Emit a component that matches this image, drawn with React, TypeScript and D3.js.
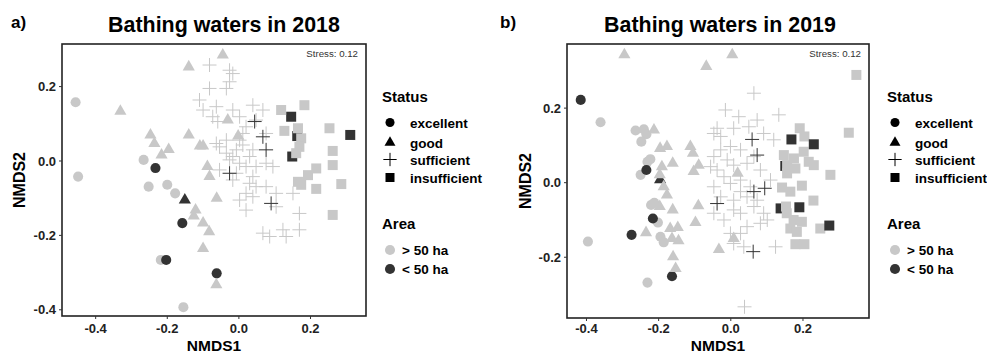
import React from 'react';
import * as d3 from 'd3';

type P = [number, number];

const LIGHT = '#c8c8c8';
const DARK = '#333333';
const FONT = "'Liberation Sans', Arial, Helvetica, sans-serif";

// ---- 2018 (NMDS1, NMDS2) ----
const exc18Big: P[] = [[-0.456, 0.158], [-0.449, -0.042], [-0.266, 0.003], [-0.252, -0.069], [-0.2, -0.064], [-0.178, -0.087], [-0.218, -0.266], [-0.155, -0.393]];
const exc18Small: P[] = [[-0.233, -0.019], [-0.158, -0.167], [-0.203, -0.266], [-0.062, -0.302]];
const good18Big: P[] = [[-0.045, 0.285], [-0.14, 0.253], [-0.331, 0.134], [-0.247, 0.07], [-0.236, 0.047], [-0.216, 0.016], [-0.196, 0.031], [-0.14, 0.07], [-0.109, 0.04], [-0.1, 0.04], [-0.031, 0.11], [-0.002, 0.067], [-0.088, -0.015], [-0.082, -0.042], [-0.062, -0.1], [-0.121, -0.132], [-0.126, -0.148], [-0.1, -0.167], [-0.083, -0.19], [-0.1, -0.235], [-0.063, -0.333]];
const good18Small: P[] = [[-0.151, -0.105]];
const suff18Big: P[] = [[-0.082, 0.258], [-0.026, 0.244], [-0.017, 0.235], [-0.082, 0.195], [-0.026, 0.213], [-0.11, 0.164], [-0.035, 0.195], [-0.063, 0.146], [-0.1, 0.137], [-0.073, 0.119], [-0.017, 0.137], [-0.059, 0.106], [0.002, 0.119], [0.039, 0.15], [0.067, 0.137], [0.048, 0.11], [0.02, 0.092], [0.011, 0.074], [-0.063, 0.047], [-0.054, 0.038], [-0.035, 0.021], [-0.017, 0.012], [-0.007, 0.03], [0.011, 0.043], [0.039, 0.03], [0.076, 0.074], [0.03, 0.012], [0.002, -0.006], [-0.026, 0.003], [0.02, -0.015], [-0.007, -0.033], [0.076, -0.006], [0.095, -0.015], [0.03, -0.06], [0.048, -0.069], [-0.017, -0.051], [0.02, -0.087], [0.002, -0.105], [0.039, -0.096], [0.076, -0.069], [0.104, -0.087], [0.151, -0.087], [0.169, -0.141], [0.02, -0.132], [0.067, -0.194], [0.086, -0.203], [0.123, -0.185], [0.132, -0.203], [0.169, -0.185], [0.104, -0.123], [-0.054, -0.024], [0.002, 0.056], [-0.035, 0.056], [0.048, -0.015], [0.039, -0.042]];
const suff18Small: P[] = [[0.044, 0.106], [0.067, 0.065], [0.076, 0.03], [-0.026, -0.033], [0.09, -0.114]];
const insuf18Big: P[] = [[0.118, 0.137], [0.183, 0.15], [0.127, 0.081], [0.165, 0.088], [0.174, 0.061], [0.169, 0.038], [0.16, 0.021], [0.253, 0.088], [0.262, 0.027], [0.262, -0.011], [0.216, -0.02], [0.193, -0.038], [0.165, -0.056], [0.174, -0.064], [0.216, -0.075], [0.286, -0.062], [0.262, -0.145]];
const insuf18Small: P[] = [[0.146, 0.119], [0.163, 0.067], [0.149, 0.012], [0.311, 0.07]];

// ---- 2019 ----
const exc19Big: P[] = [[-0.361, 0.162], [-0.264, 0.14], [-0.241, 0.143], [-0.234, 0.13], [-0.248, 0.11], [-0.223, 0.063], [-0.231, 0.056], [-0.25, 0.021], [-0.221, -0.06], [-0.212, -0.054], [-0.202, -0.107], [-0.195, -0.145], [-0.186, -0.16], [-0.396, -0.158], [-0.231, -0.268]];
const exc19Small: P[] = [[-0.416, 0.222], [-0.234, 0.034], [-0.216, -0.096], [-0.275, -0.14], [-0.163, -0.251]];
const good19Small: P[] = [[-0.196, 0.008]];
const good19Big: P[] = [[-0.295, 0.343], [0.004, 0.343], [-0.068, 0.312], [-0.213, 0.141], [-0.196, 0.092], [-0.177, 0.097], [-0.112, 0.097], [-0.105, 0.079], [-0.089, 0.047], [-0.103, 0.03], [-0.191, 0.043], [-0.161, 0.052], [-0.197, 0.021], [-0.186, -0.011], [-0.177, -0.033], [-0.197, -0.064], [-0.161, -0.073], [-0.09, -0.062], [-0.098, -0.107], [-0.235, -0.134], [-0.168, -0.123], [-0.147, -0.12], [-0.163, -0.15], [-0.145, -0.156], [-0.16, -0.199], [-0.153, -0.23], [-0.033, -0.179], [0.008, -0.15], [0.019, 0.025]];
const suff19Big: P[] = [[0.064, 0.24], [-0.015, 0.195], [0.022, 0.177], [0.073, 0.168], [0.133, 0.182], [-0.038, 0.146], [-0.047, 0.132], [-0.028, 0.124], [0.008, 0.146], [0.05, 0.15], [0.091, 0.132], [0.119, 0.115], [-0.001, 0.097], [0.027, 0.088], [-0.028, 0.088], [-0.047, 0.07], [-0.056, 0.043], [-0.038, 0.034], [-0.01, 0.061], [0.008, 0.047], [0.045, 0.052], [0.064, 0.07], [0.082, 0.034], [0.11, 0.007], [-0.019, 0.016], [-0.001, -0.002], [0.027, 0.007], [0.054, -0.011], [0.045, -0.038], [0.008, -0.047], [-0.028, -0.038], [-0.047, -0.011], [-0.047, -0.082], [-0.019, -0.1], [0.008, -0.073], [0.027, -0.082], [0.064, -0.064], [0.091, -0.082], [0.101, -0.1], [0.082, -0.109], [0.045, -0.118], [0.027, -0.136], [0.008, -0.163], [0.036, -0.172], [-0.001, -0.136], [0.124, -0.172], [0.038, -0.333], [0.073, -0.047], [0.027, -0.024]];
const suff19Small: P[] = [[0.059, 0.116], [0.073, 0.074], [0.094, -0.015], [0.064, -0.024], [-0.038, -0.056], [0.062, -0.185]];
const insuf19Big: P[] = [[0.348, 0.289], [0.327, 0.134], [0.191, 0.146], [0.204, 0.124], [0.202, 0.083], [0.147, 0.074], [0.175, 0.065], [0.156, 0.047], [0.179, 0.038], [0.156, 0.025], [0.216, 0.056], [0.23, 0.047], [0.276, 0.021], [0.197, -0.008], [0.142, -0.013], [0.165, -0.024], [0.229, -0.048], [0.153, -0.064], [0.155, -0.082], [0.174, -0.1], [0.197, -0.105], [0.165, -0.123], [0.183, -0.132], [0.248, -0.123], [0.179, -0.165], [0.204, -0.165]];
const insuf19Small: P[] = [[0.138, -0.069], [0.151, 0.045], [0.168, 0.116], [0.23, 0.103], [0.19, -0.066], [0.273, -0.115]];

const statusLabels = ['excellent', 'good', 'sufficient', 'insufficient'];
const areaLabels = ['> 50 ha', '< 50 ha'];
const xTicks = [-0.4, -0.2, 0, 0.2];
const yTicks18 = [-0.4, -0.2, 0, 0.2];
const yTicks19 = [-0.2, 0, 0.2];

type Shape = 'circle' | 'triangle' | 'cross' | 'square';

const symPath = (shape: Shape, scale = 1) => {
  if (shape === 'cross') return `M${-7 * scale},0H${7 * scale}M0,${-7 * scale}V${7 * scale}`;
  const t = shape === 'circle' ? d3.symbolCircle : shape === 'triangle' ? d3.symbolTriangle : d3.symbolSquare;
  const size = shape === 'circle' ? 80 : shape === 'triangle' ? 64 : 100;
  return d3.symbol(t, size * scale * scale)() as string;
};

const Mark = ({ shape, color, tx, ty, scale = 1 }: { shape: Shape; color: string; tx: number; ty: number; scale?: number }) =>
  shape === 'cross' ? (
    <path d={symPath(shape, scale)} transform={`translate(${tx},${ty})`} fill="none" stroke={color} strokeWidth={1} />
  ) : (
    <path d={symPath(shape, scale)} transform={`translate(${tx},${ty})`} fill={color} />
  );

type Layer = { pts: P[]; shape: Shape; color: string };

type PanelCfg = {
  tag: string; tagX: number; title: string; titleX: number;
  left: number; right: number; top: number; bottom: number;
  xDomain: [number, number]; yDomain: [number, number]; yTicks: number[];
  layers: Layer[]; yLabelX: number; legendX: number;
};

const Panel = ({ c }: { c: PanelCfg }) => {
  const x = d3.scaleLinear().domain(c.xDomain).range([c.left, c.right]);
  const y = d3.scaleLinear().domain(c.yDomain).range([c.bottom, c.top]);
  const fmt = (v: number) => v.toFixed(1);
  const lx = c.legendX;
  const statusShapes: Shape[] = ['circle', 'triangle', 'cross', 'square'];
  const statusY = [122.5, 142.5, 159.5, 177.5];
  const areaY = [250, 269];
  return (
    <g fontFamily={FONT}>
      <text x={c.tagX} y={28} fontSize={17} fontWeight="bold">{c.tag}</text>
      <text x={c.titleX} y={32} fontSize={21.4} fontWeight="bold" textAnchor="middle">{c.title}</text>
      <rect x={c.left} y={c.top} width={c.right - c.left} height={c.bottom - c.top} fill="#fff" />
      {c.layers.map((l, i) => (
        <g key={i}>
          {l.pts.map((p, j) => (
            <Mark key={j} shape={l.shape} color={l.color} tx={x(p[0])} ty={y(p[1])} />
          ))}
        </g>
      ))}
      <rect x={c.left} y={c.top} width={c.right - c.left} height={c.bottom - c.top} fill="none" stroke="#222" strokeWidth={1.6} />
      <text x={c.right - 8} y={57} fontSize={9.7} fill="#333" textAnchor="end">Stress: 0.12</text>
      {xTicks.map((t) => (
        <g key={t}>
          <line x1={x(t)} x2={x(t)} y1={c.bottom} y2={c.bottom + 3} stroke="#333" />
          <text x={x(t)} y={333} fontSize={13} fontWeight="bold" fill="#222" textAnchor="middle">{fmt(t)}</text>
        </g>
      ))}
      {c.yTicks.map((t) => (
        <g key={t}>
          <line x1={c.left - 3} x2={c.left} y1={y(t)} y2={y(t)} stroke="#333" />
          <text x={c.left - 6} y={y(t)} dy="0.35em" fontSize={13} fontWeight="bold" fill="#222" textAnchor="end">{fmt(t)}</text>
        </g>
      ))}
      <text x={(c.left + c.right) / 2} y={351} fontSize={15.5} fontWeight="bold" textAnchor="middle">NMDS1</text>
      <text transform={`translate(${c.yLabelX},${(c.top + c.bottom) / 2}) rotate(-90)`} fontSize={16} fontWeight="bold" textAnchor="middle">NMDS2</text>
      {/* legend */}
      <text x={lx} y={102} fontSize={15} fontWeight="bold">Status</text>
      {statusLabels.map((s, i) => (
        <g key={s}>
          <Mark shape={statusShapes[i]} color="#000" tx={lx + 8} ty={statusY[i]} scale={statusShapes[i] === 'cross' ? 0.95 : 0.9} />
          <text x={lx + 28} y={statusY[i] + 5} fontSize={13.5} fontWeight="bold">{s}</text>
        </g>
      ))}
      <text x={lx} y={229} fontSize={15} fontWeight="bold">Area</text>
      {areaLabels.map((s, i) => (
        <g key={s}>
          <Mark shape="circle" color={i === 0 ? LIGHT : DARK} tx={lx + 8} ty={areaY[i]} />
          <text x={lx + 20} y={areaY[i] + 5} fontSize={13.5} fontWeight="bold">{s}</text>
        </g>
      ))}
    </g>
  );
};

const panels: PanelCfg[] = [
  {
    tag: 'a)', tagX: 11, title: 'Bathing waters in 2018', titleX: 224,
    left: 62, right: 366, top: 44, bottom: 316,
    xDomain: [-0.494, 0.355], yDomain: [-0.4167, 0.3145], yTicks: yTicks18, yLabelX: 25, legendX: 382,
    layers: [
      { pts: exc18Big, shape: 'circle', color: LIGHT },
      { pts: exc18Small, shape: 'circle', color: DARK },
      { pts: good18Big, shape: 'triangle', color: LIGHT },
      { pts: good18Small, shape: 'triangle', color: DARK },
      { pts: suff18Big, shape: 'cross', color: LIGHT },
      { pts: suff18Small, shape: 'cross', color: DARK },
      { pts: insuf18Small, shape: 'square', color: DARK },
      { pts: insuf18Big, shape: 'square', color: LIGHT },
    ],
  },
  {
    tag: 'b)', tagX: 500, title: 'Bathing waters in 2019', titleX: 720,
    left: 567, right: 869, top: 44, bottom: 318,
    xDomain: [-0.454, 0.383], yDomain: [-0.363, 0.372], yTicks: yTicks19, yLabelX: 531, legendX: 887,
    layers: [
      { pts: exc19Big, shape: 'circle', color: LIGHT },
      { pts: exc19Small, shape: 'circle', color: DARK },
      { pts: good19Small, shape: 'triangle', color: DARK },
      { pts: good19Big, shape: 'triangle', color: LIGHT },
      { pts: suff19Big, shape: 'cross', color: LIGHT },
      { pts: suff19Small, shape: 'cross', color: DARK },
      { pts: insuf19Small.slice(0, 2), shape: 'square', color: DARK },
      { pts: insuf19Big, shape: 'square', color: LIGHT },
      { pts: insuf19Small.slice(2), shape: 'square', color: DARK },
    ],
  },
];

export default function App() {
  return (
    <svg width={987} height={354} style={{ position: 'absolute', left: 0, top: 0, background: '#fff' }}>
      <rect width={987} height={354} fill="#fff" />
      {panels.map((p) => (
        <Panel key={p.tag} c={p} />
      ))}
    </svg>
  );
}
